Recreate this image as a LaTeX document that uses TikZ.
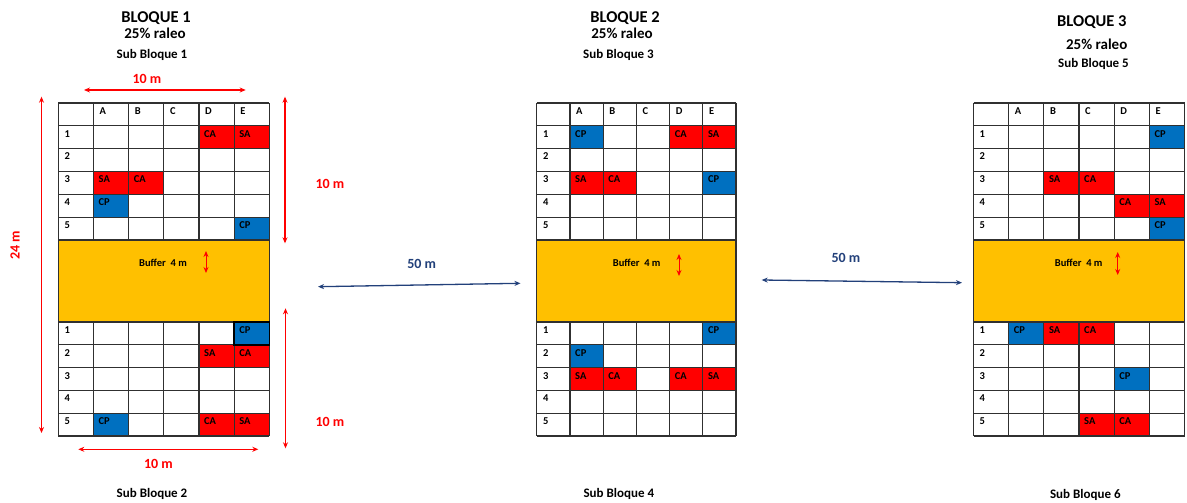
\documentclass[tikz,border=0pt]{standalone}
\usepackage{fontspec}
\setmainfont{Carlito}
\usetikzlibrary{arrows.meta}
\definecolor{cred}{HTML}{FF0000}
\definecolor{cblue}{HTML}{0070C0}
\definecolor{cbuf}{HTML}{FFC000}
\definecolor{cnavy}{HTML}{22407A}
\definecolor{cgrid}{HTML}{303030}
\tikzset{
  gridline/.style={draw=cgrid, line width=1.15pt},
  celltxt/.style={anchor=base west, inner sep=0pt, font=\fontsize{10.5}{11}\selectfont\bfseries},
  title/.style={anchor=base, inner sep=0pt, font=\fontsize{16.5}{18}\selectfont\bfseries},
  raleo/.style={anchor=base, inner sep=0pt, font=\fontsize{15}{17}\selectfont\bfseries},
  subtxt/.style={anchor=base, inner sep=0pt, font=\fontsize{13}{15}\selectfont\bfseries},
  redlbl/.style={anchor=base, inner sep=0pt, text=cred, font=\fontsize{14}{16}\selectfont\bfseries},
  navylbl/.style={anchor=base, inner sep=0pt, text=cnavy, font=\fontsize{14}{16}\selectfont\bfseries},
  buftxt/.style={anchor=base, inner sep=0pt, font=\fontsize{10.5}{12}\selectfont\bfseries},
  redarrow/.style={draw=cred, line width=1.1pt, {Stealth[length=6pt,width=5pt]}-{Stealth[length=6pt,width=5pt]}},
  navyarrow/.style={draw=cnavy, line width=1.3pt, {Stealth[length=6pt,width=5pt]}-{Stealth[length=6pt,width=5pt]}},
}
\newcommand\blockgrid[5]{%
  % #1 name, #2 x0, #3 column width, #4 upper cells, #5 lower cells
  \fill[cbuf] (#2,240) rectangle ({#2+6*#3},322);
  \foreach \c/\r/\k/\t in {#4}{%
    \fill[fill=\k] ({#2+\c*#3},{125.5+(\r-1)*22.9}) rectangle ++(#3,22.9);
  }
  \foreach \c/\r/\k/\t in {#5}{%
    \fill[fill=\k] ({#2+\c*#3},{322+(\r-1)*22.8}) rectangle ++(#3,22.8);
  }
  \foreach \i in {0,...,6}{%
    \draw[gridline] ({#2+\i*#3},103) -- ({#2+\i*#3},240);
    \draw[gridline] ({#2+\i*#3},322) -- ({#2+\i*#3},436);
  }
  \foreach \y in {103,125.5,148.4,171.3,194.2,217.1,344.8,367.6,390.4,413.2,436}{%
    \draw[gridline] (#2,\y) -- ({#2+6*#3},\y);
  }
  \draw[gridline] (#2,240) rectangle ({#2+6*#3},322);
  \foreach \l [count=\i] in {A,B,C,D,E}{%
    \node[celltxt] (#1h\i) at ({#2+\i*#3+6},114.5) {\l};
  }
  \foreach \i in {1,...,5}{%
    \node[celltxt] (#1ur\i) at ({#2+6},{125.5+(\i-1)*22.9+11.5}) {\i};
    \node[celltxt] (#1lr\i) at ({#2+6},{322+(\i-1)*22.8+11.5}) {\i};
  }
  \foreach \c/\r/\k/\t in {#4}{%
    \node[celltxt] (#1u\c\r) at ({#2+\c*#3+5},{125.5+(\r-1)*22.9+11.5}) {\t};
  }
  \foreach \c/\r/\k/\t in {#5}{%
    \node[celltxt] (#1l\c\r) at ({#2+\c*#3+5},{322+(\r-1)*22.8+11.5}) {\t};
  }
}
\begin{document}
\begin{tikzpicture}[x=1pt,y=-1pt]
\useasboundingbox (0,0) rectangle (1187,503);
\fill[white] (0,0) rectangle (1187,503);

% ---------- Block 1 ----------
\blockgrid{bA}{58.3}{35.17}
  {4/1/cred/CA,5/1/cred/SA,1/3/cred/SA,2/3/cred/CA,1/4/cblue/CP,5/5/cblue/CP}
  {5/1/cblue/CP,4/2/cred/SA,5/2/cred/CA,1/5/cblue/CP,4/5/cred/CA,5/5/cred/SA}
\draw[line width=1.6pt, draw=black] ({58.3+5*35.17},322) rectangle ++(35.17,22.8);
\node[title] (t1) at (156,22.7) {BLOQUE 1};
\node[raleo] (r1) at (155,38.3) {25\% raleo};
\node[subtxt] (s1) at (152,58.7) {Sub Bloque 1};
\node[subtxt] (s2) at (152,497) {Sub Bloque 2};
\node[buftxt] (bf1) at (163,266.5) {Buffer\ \ 4 m};
\coordinate (bf1a) at (206,251);
\coordinate (bf1b) at (206,273);
\draw[redarrow, line width=0.9pt] (bf1a) -- (bf1b);

% red dimension arrows
\coordinate (dtl) at (84,90);
\coordinate (dtr) at (245.7,90);
\draw[redarrow] (dtl) -- (dtr);
\node[redlbl] (l10a) at (147,83.3) {10 m};
\coordinate (dbl) at (78.3,449.3);
\coordinate (dbr) at (258.3,449.3);
\draw[redarrow] (dbl) -- (dbr);
\node[redlbl] (l10b) at (158.5,468.3) {10 m};
\coordinate (dvt) at (41.5,96.7);
\coordinate (dvb) at (41.5,433);
\draw[redarrow] (dvt) -- (dvb);
\node[redlbl, rotate=90, anchor=center] (l24) at (15,245) {24 m};
\coordinate (drut) at (285,96.7);
\coordinate (drub) at (285,243.3);
\draw[redarrow] (drut) -- (drub);
\node[redlbl, anchor=center] (l10c) at (330,184) {10 m};
\coordinate (drlt) at (285.5,308.3);
\coordinate (drlb) at (285.5,448.3);
\draw[redarrow] (drlt) -- (drlb);
\node[redlbl, anchor=center] (l10d) at (330,422) {10 m};

% ---------- Block 2 ----------
\blockgrid{bB}{536.8}{33.2}
  {1/1/cblue/CP,4/1/cred/CA,5/1/cred/SA,1/3/cred/SA,2/3/cred/CA,5/3/cblue/CP}
  {5/1/cblue/CP,1/2/cblue/CP,1/3/cred/SA,2/3/cred/CA,4/3/cred/CA,5/3/cred/SA}
\node[title] (t2) at (625,22.7) {BLOQUE 2};
\node[raleo] (r2) at (622,38.3) {25\% raleo};
\node[subtxt] (s3) at (618.5,58.7) {Sub Bloque 3};
\node[subtxt] (s4) at (618.8,497) {Sub Bloque 4};
\node[buftxt] (bf2) at (636.7,266.5) {Buffer\ \ 4 m};
\coordinate (bf2a) at (679,254);
\coordinate (bf2b) at (679,276);
\draw[redarrow, line width=0.9pt] (bf2a) -- (bf2b);

% ---------- Block 3 ----------
\blockgrid{bC}{973.5}{35.17}
  {5/1/cblue/CP,2/3/cred/SA,3/3/cred/CA,4/4/cred/CA,5/4/cred/SA,5/5/cblue/CP}
  {1/1/cblue/CP,2/1/cred/SA,3/1/cred/CA,4/3/cblue/CP,3/5/cred/SA,4/5/cred/CA}
\node[title] (t3) at (1091.8,26.7) {BLOQUE 3};
\node[raleo] (r3) at (1096.7,50) {25\% raleo};
\node[subtxt] (s5) at (1093.5,67.7) {Sub Bloque 5};
\node[subtxt] (s6) at (1085.3,498) {Sub Bloque 6};
\node[buftxt] (bf3) at (1078.7,266.5) {Buffer\ \ 4 m};
\coordinate (bf3a) at (1117.7,252);
\coordinate (bf3b) at (1117.7,275);
\draw[redarrow, line width=0.9pt] (bf3a) -- (bf3b);

% ---------- distances between blocks ----------
\coordinate (d1a) at (318,286.7);
\coordinate (d1b) at (520.5,283.3);
\draw[navyarrow] (d1a) -- (d1b);
\node[navylbl] (l50a) at (421.7,268.5) {50 m};
\coordinate (d2a) at (761.7,280);
\coordinate (d2b) at (962,282.7);
\draw[navyarrow] (d2a) -- (d2b);
\node[navylbl] (l50b) at (846,262) {50 m};
\end{tikzpicture}
\end{document}
